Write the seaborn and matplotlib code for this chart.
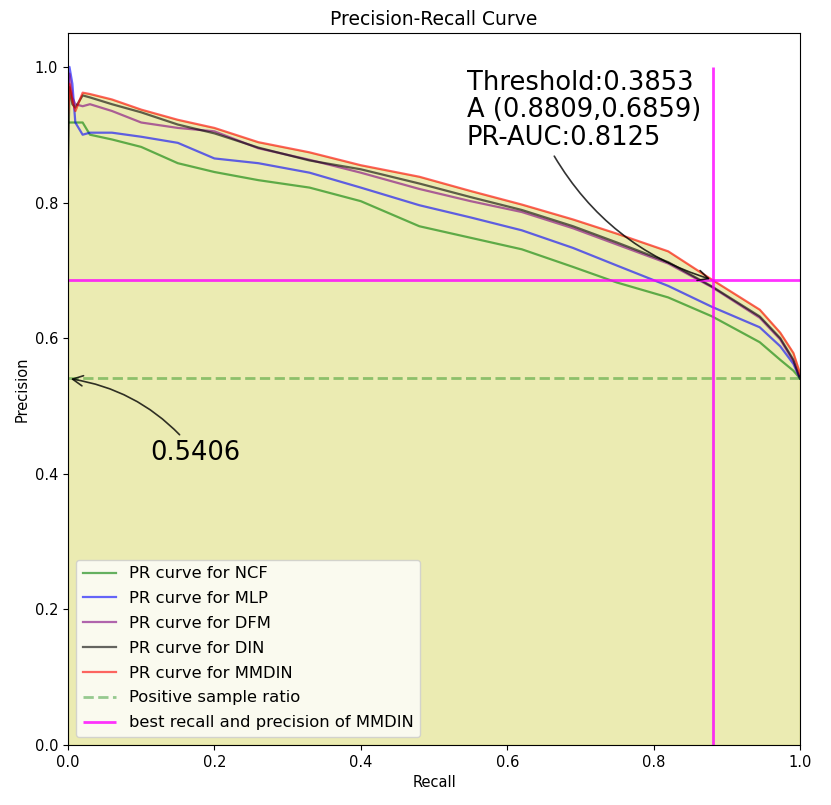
import numpy as np
import pandas as pd
import matplotlib
matplotlib.use("Agg")
import matplotlib.pyplot as plt
import seaborn as sns

# recall grid shared by all curves
recall = [0.0, 0.002, 0.006, 0.01, 0.02, 0.03, 0.06, 0.1, 0.15, 0.2, 0.26, 0.33,
          0.4, 0.48, 0.55, 0.62, 0.69, 0.75, 0.82, 0.88, 0.945, 0.973, 0.991, 1.0]

prec_ncf = [0.918, 0.918, 0.918, 0.918, 0.918, 0.900, 0.893, 0.882, 0.858, 0.845, 0.833, 0.822,
            0.802, 0.765, 0.748, 0.731, 0.705, 0.682, 0.660, 0.632, 0.594, 0.568, 0.552, 0.5406]
prec_mlp = [0.960, 1.000, 0.975, 0.918, 0.900, 0.903, 0.903, 0.897, 0.888, 0.865, 0.858, 0.844,
            0.822, 0.796, 0.778, 0.759, 0.733, 0.707, 0.677, 0.646, 0.616, 0.588, 0.562, 0.5406]
prec_dfm = [0.960, 0.990, 0.955, 0.945, 0.942, 0.945, 0.935, 0.918, 0.910, 0.905, 0.880, 0.863,
            0.844, 0.820, 0.802, 0.786, 0.762, 0.738, 0.710, 0.675, 0.630, 0.598, 0.566, 0.5406]
prec_din = [0.850, 0.970, 0.945, 0.940, 0.958, 0.955, 0.945, 0.933, 0.915, 0.902, 0.881, 0.862,
            0.849, 0.828, 0.808, 0.789, 0.765, 0.741, 0.712, 0.676, 0.632, 0.600, 0.568, 0.5406]
prec_mmdin = [0.930, 0.975, 0.950, 0.935, 0.962, 0.960, 0.952, 0.937, 0.922, 0.910, 0.889, 0.874,
              0.855, 0.838, 0.817, 0.797, 0.775, 0.754, 0.728, 0.686, 0.642, 0.608, 0.578, 0.548]

models = ["NCF", "MLP", "DFM", "DIN", "MMDIN"]
colors = ["g", "b", "purple", "k", "r"]

pos_ratio = 0.5406
best_recall = 0.8809
best_precision = 0.6859
best_threshold = 0.3853
pr_auc = 0.8125

fig = plt.figure(figsize=(8.31, 8.05), dpi=100)
ax = fig.add_axes([68 / 831, 60 / 805, 732 / 831, 712 / 805])

curves = [prec_ncf, prec_mlp, prec_dfm, prec_din, prec_mmdin]
for name, col, prec in zip(models, colors, curves):
    df = pd.DataFrame({"recall": recall, "precision": prec})
    sns.lineplot(data=df, x="recall", y="precision", ax=ax, color=col, alpha=0.6,
                 lw=1.6, sort=False, estimator=None, label="PR curve for " + name)

# shaded area under the MMDIN curve
ax.fill_between(recall, prec_mmdin, color="y", alpha=0.3)

ratio_df = pd.DataFrame({"recall": [0, 1], "precision": [pos_ratio, pos_ratio]})
sns.lineplot(data=ratio_df, x="recall", y="precision", ax=ax, color="g", alpha=0.4,
             lw=2, linestyle="--", label="Positive sample ratio")

ax.plot([best_recall, best_recall], [0, 1], color="magenta", alpha=0.8, lw=2,
        solid_capstyle="butt", label="best recall and precision of MMDIN")
ax.axhline(best_precision, color="magenta", alpha=0.8, lw=2)

ax.annotate("Threshold:%.4f\nA (%.4f,%.4f)\nPR-AUC:%.4f" % (best_threshold, best_recall, best_precision, pr_auc),
            xy=(best_recall, best_precision), xytext=(0.545, 0.876),
            ha="left", va="bottom", fontsize=18.5, linespacing=1.08,
            arrowprops=dict(arrowstyle="->", color="k", alpha=0.8, lw=1.2, relpos=(0.36, 0.0),
                            connectionstyle="arc3,rad=0.2"))
ax.annotate("%.4f" % pos_ratio, xy=(0, pos_ratio), xytext=(0.112, 0.421),
            ha="left", va="baseline", fontsize=18.5,
            arrowprops=dict(arrowstyle="->", color="k", alpha=0.8, lw=1.2,
                            connectionstyle="arc3,rad=0.2"))

ax.set_xlim(0, 1)
ax.set_ylim(0, 1.05)
ax.set_xlabel("Recall", fontsize=10.5)
ax.set_ylabel("Precision", fontsize=10.5)
ax.set_title("Precision-Recall Curve", fontsize=13.5)
ax.tick_params(labelsize=10.5)
ax.legend(loc="lower left", fontsize=11.8, labelspacing=0.6)

fig.savefig("out.png", dpi=100)
